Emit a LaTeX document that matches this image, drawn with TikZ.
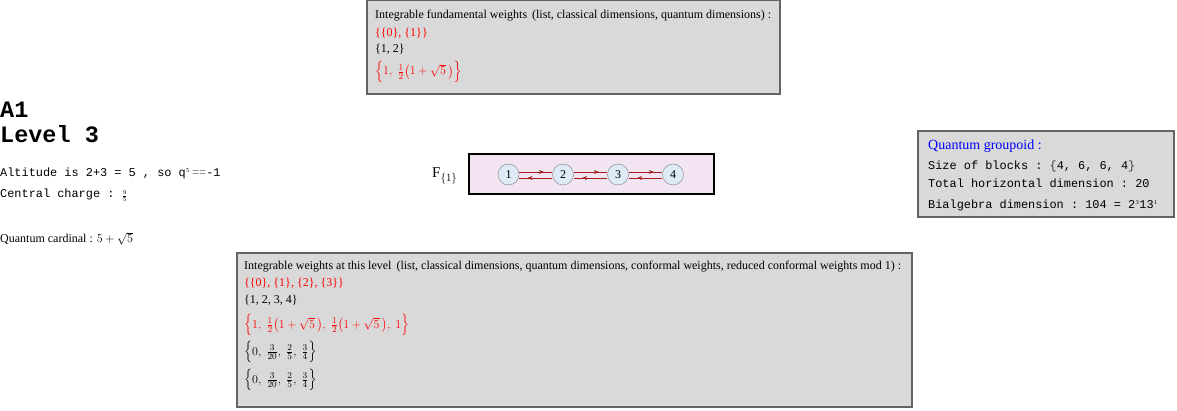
\documentclass[tikz,border=0pt]{standalone}
\usepackage{amsmath,amssymb}
\usepackage{fontspec}
\setmainfont{Liberation Serif}
\setmonofont{Liberation Mono}
\DeclareMathSizes{12}{12}{9.5}{7.5}
\usepackage{xcolor}
\usepackage{tikz}
\usetikzlibrary{arrows.meta,decorations.markings}
\definecolor{panel}{RGB}{217,217,217}
\definecolor{panelline}{RGB}{100,100,100}
\definecolor{graphbg}{RGB}{243,228,241}
\definecolor{vfill}{RGB}{222,234,246}
\definecolor{edgered}{RGB}{160,30,30}
\begin{document}
\begin{tikzpicture}[x=1pt,y=-1pt,
  panelbox/.style={draw=panelline,fill=panel,line width=1.6pt},
  t/.style={anchor=base west,inner sep=0pt,font=\fontsize{12}{14}\selectfont},
  tt/.style={anchor=base west,inner sep=0pt,font=\fontsize{11.9}{14}\ttfamily},
  big/.style={anchor=base west,inner sep=0pt,font=\fontsize{23.5}{26}\ttfamily\bfseries},
  v/.style={circle,draw=gray,fill=vfill,minimum size=21pt,inner sep=0pt,font=\fontsize{12}{13}\selectfont},
  e/.style={draw=edgered,line width=0.6pt,postaction={decorate},
    decoration={markings,mark=at position 0.75 with {\arrow{Stealth[length=5pt,width=4pt]}}}}]
\useasboundingbox (0,0) rectangle (1177,411);
% top panel
\draw[panelbox] (367,0) rectangle (780,94);
\node[t] (f1) at (375,19) {Integrable fundamental weights\, (list, classical dimensions, quantum dimensions) :};
\node[t,text=red] (f2) at (375,36.5) {\{\{0\}, \{1\}\}};
\node[t] (f3) at (375,53) {\{1, 2\}};
\node[t,text=red] (f4) at (375,75) {$\Big\{1,\ \tfrac{1}{2}\big(1+\sqrt{5}\,\big)\Big\}$};
% left column
\node[big] (a1) at (0,118) {A1};
\node[big] (lvl) at (0,143) {Level 3};
\node[tt] (alt) at (0,177) {Altitude is 2+3 = 5 , so q$^{\scriptscriptstyle 5}$\,\textcolor{gray}{==}-1};
\node[tt] (cc) at (0,198) {Central charge : $\scriptstyle\frac{9}{5}$};
\node[t] (qc) at (0,243) {Quantum cardinal : $5+\sqrt{5}$};
% fusion graph
\node[anchor=base west,inner sep=0pt,font=\fontsize{15}{17}\selectfont] (F) at (432,178) {F$_{\{1\}}$};
\draw[draw=black,fill=graphbg,line width=1.6pt] (469,154) rectangle (714,194);
\foreach \i/\x in {1/508.5,2/563,3/618,4/673}
  \node[v] (v\i) at (\x,174.5) {\i};
\foreach \a/\b in {1/2,2/3,3/4} {
  \draw[e] ([yshift=2.5pt]v\a.east) -- ([yshift=2.5pt]v\b.west);
  \draw[e] ([yshift=-3.5pt]v\b.west) -- ([yshift=-3.5pt]v\a.east);
}
% groupoid panel
\draw[panelbox] (918,131) rectangle (1174,217);
\node[t,text=blue,font=\fontsize{14}{16}\selectfont] (g1) at (928,150) {Quantum groupoid :};
\node[tt] (g2) at (928,170) {Size of blocks : \textcolor{darkgray}{\{}4, 6, 6, 4\textcolor{darkgray}{\}}};
\node[tt] (g3) at (928,188) {Total horizontal dimension : 20};
\node[tt] (g4) at (928,209) {Bialgebra dimension : 104 = 2$^{\scriptscriptstyle 3}$13$^{\scriptscriptstyle 1}$};
% weights panel
\draw[panelbox] (237,253) rectangle (912,407);
\node[t] (w1) at (244,270) {Integrable weights at this level\, (list, classical dimensions, quantum dimensions, conformal weights, reduced conformal weights mod 1) :};
\node[t,text=red] (w2) at (244,287) {\{\{0\}, \{1\}, \{2\}, \{3\}\}};
\node[t] (w3) at (244,304) {\{1, 2, 3, 4\}};
\node[t,text=red] (w4) at (244,328) {$\Big\{1,\ \tfrac{1}{2}\big(1+\sqrt{5}\,\big),\ \tfrac{1}{2}\big(1+\sqrt{5}\,\big),\ 1\Big\}$};
\node[t] (w5) at (244,355) {$\Big\{0,\ \tfrac{3}{20},\ \tfrac{2}{5},\ \tfrac{3}{4}\Big\}$};
\node[t] (w6) at (244,383) {$\Big\{0,\ \tfrac{3}{20},\ \tfrac{2}{5},\ \tfrac{3}{4}\Big\}$};
\end{tikzpicture}
\end{document}
